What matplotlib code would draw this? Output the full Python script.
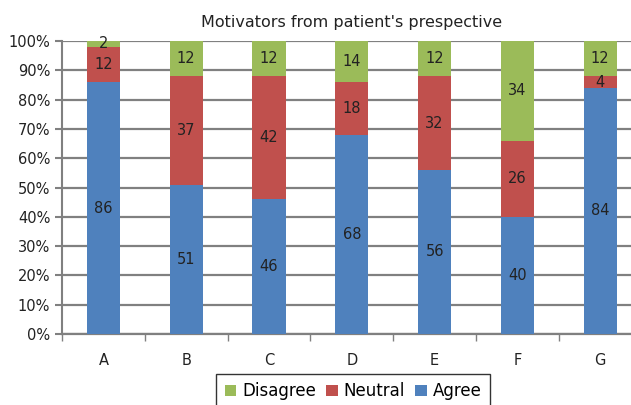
import numpy as np
import matplotlib.pyplot as plt
from matplotlib.ticker import FuncFormatter

categories = ["A", "B", "C", "D", "E", "F", "G"]
agree = [86, 51, 46, 68, 56, 40, 84]
neutral = [12, 37, 42, 18, 32, 26, 4]
disagree = [2, 12, 12, 14, 12, 34, 12]

c_agree = "#4F81BD"
c_neutral = "#C0504D"
c_disagree = "#9BBB59"
grid_c = "#808080"

fig = plt.figure(figsize=(6.31, 4.05), dpi=100)
ax = fig.add_axes([62 / 631, 1 - 334 / 405, (7 * 82.8) / 631, (334 - 41) / 405])

x = np.arange(len(categories))
agree = np.array(agree)
neutral = np.array(neutral)
disagree = np.array(disagree)
w = 0.4

b1 = ax.bar(x, agree, w, color=c_agree, label="Agree", zorder=3)
b2 = ax.bar(x, neutral, w, bottom=agree, color=c_neutral, label="Neutral", zorder=3)
b3 = ax.bar(x, disagree, w, bottom=agree + neutral, color=c_disagree, label="Disagree", zorder=3)

# value labels in the middle of each segment
for vals, bottoms in [(agree, 0 * agree), (neutral, agree), (disagree, agree + neutral)]:
    for i, v in enumerate(vals):
        ax.text(x[i], bottoms[i] + v / 2, str(v), ha="center", va="center",
                fontsize=10.5, color="#222222", zorder=4)

ax.set_xlim(-0.5, len(categories) - 0.5)
ax.set_ylim(0, 100)
ax.set_yticks(np.arange(0, 101, 10))
ax.yaxis.set_major_formatter(FuncFormatter(lambda v, p: "%d%%" % v))
ax.set_xticks(x)
ax.set_xticklabels(categories)
ax.set_xticks(np.arange(-0.5, len(categories), 1), minor=True)
ax.tick_params(axis="x", which="major", length=0, pad=14, labelsize=10.5, colors="#222222")
ax.tick_params(axis="x", which="minor", length=5, width=1, color=grid_c)
ax.tick_params(axis="y", length=5, width=1.5, color=grid_c, labelsize=10.5, labelcolor="#222222")
ax.yaxis.grid(True, color=grid_c, linewidth=1.6, zorder=0)
ax.set_axisbelow(True)
for s in ["top", "right"]:
    ax.spines[s].set_visible(False)
ax.spines["left"].set_color(grid_c)
ax.spines["left"].set_linewidth(1.5)
ax.spines["bottom"].set_color(grid_c)
ax.spines["bottom"].set_linewidth(1.6)

fig.text(352 / 631, 1 - 22 / 405, "Motivators from patient's prespective",
         ha="center", va="center", fontsize=11.5, color="#222222")

leg = fig.legend(handles=[b3, b2, b1], labels=["Disagree", "Neutral", "Agree"],
                 loc="upper center", bbox_to_anchor=(353 / 631, 1 - 374 / 405), ncol=3,
                 frameon=True, fancybox=False, edgecolor="black", fontsize=12,
                 handlelength=0.7, handleheight=0.7, handletextpad=0.35, columnspacing=0.6,
                 borderpad=0.5, borderaxespad=0)
leg.get_frame().set_linewidth(1.0)

fig.savefig("out.png", dpi=100)
